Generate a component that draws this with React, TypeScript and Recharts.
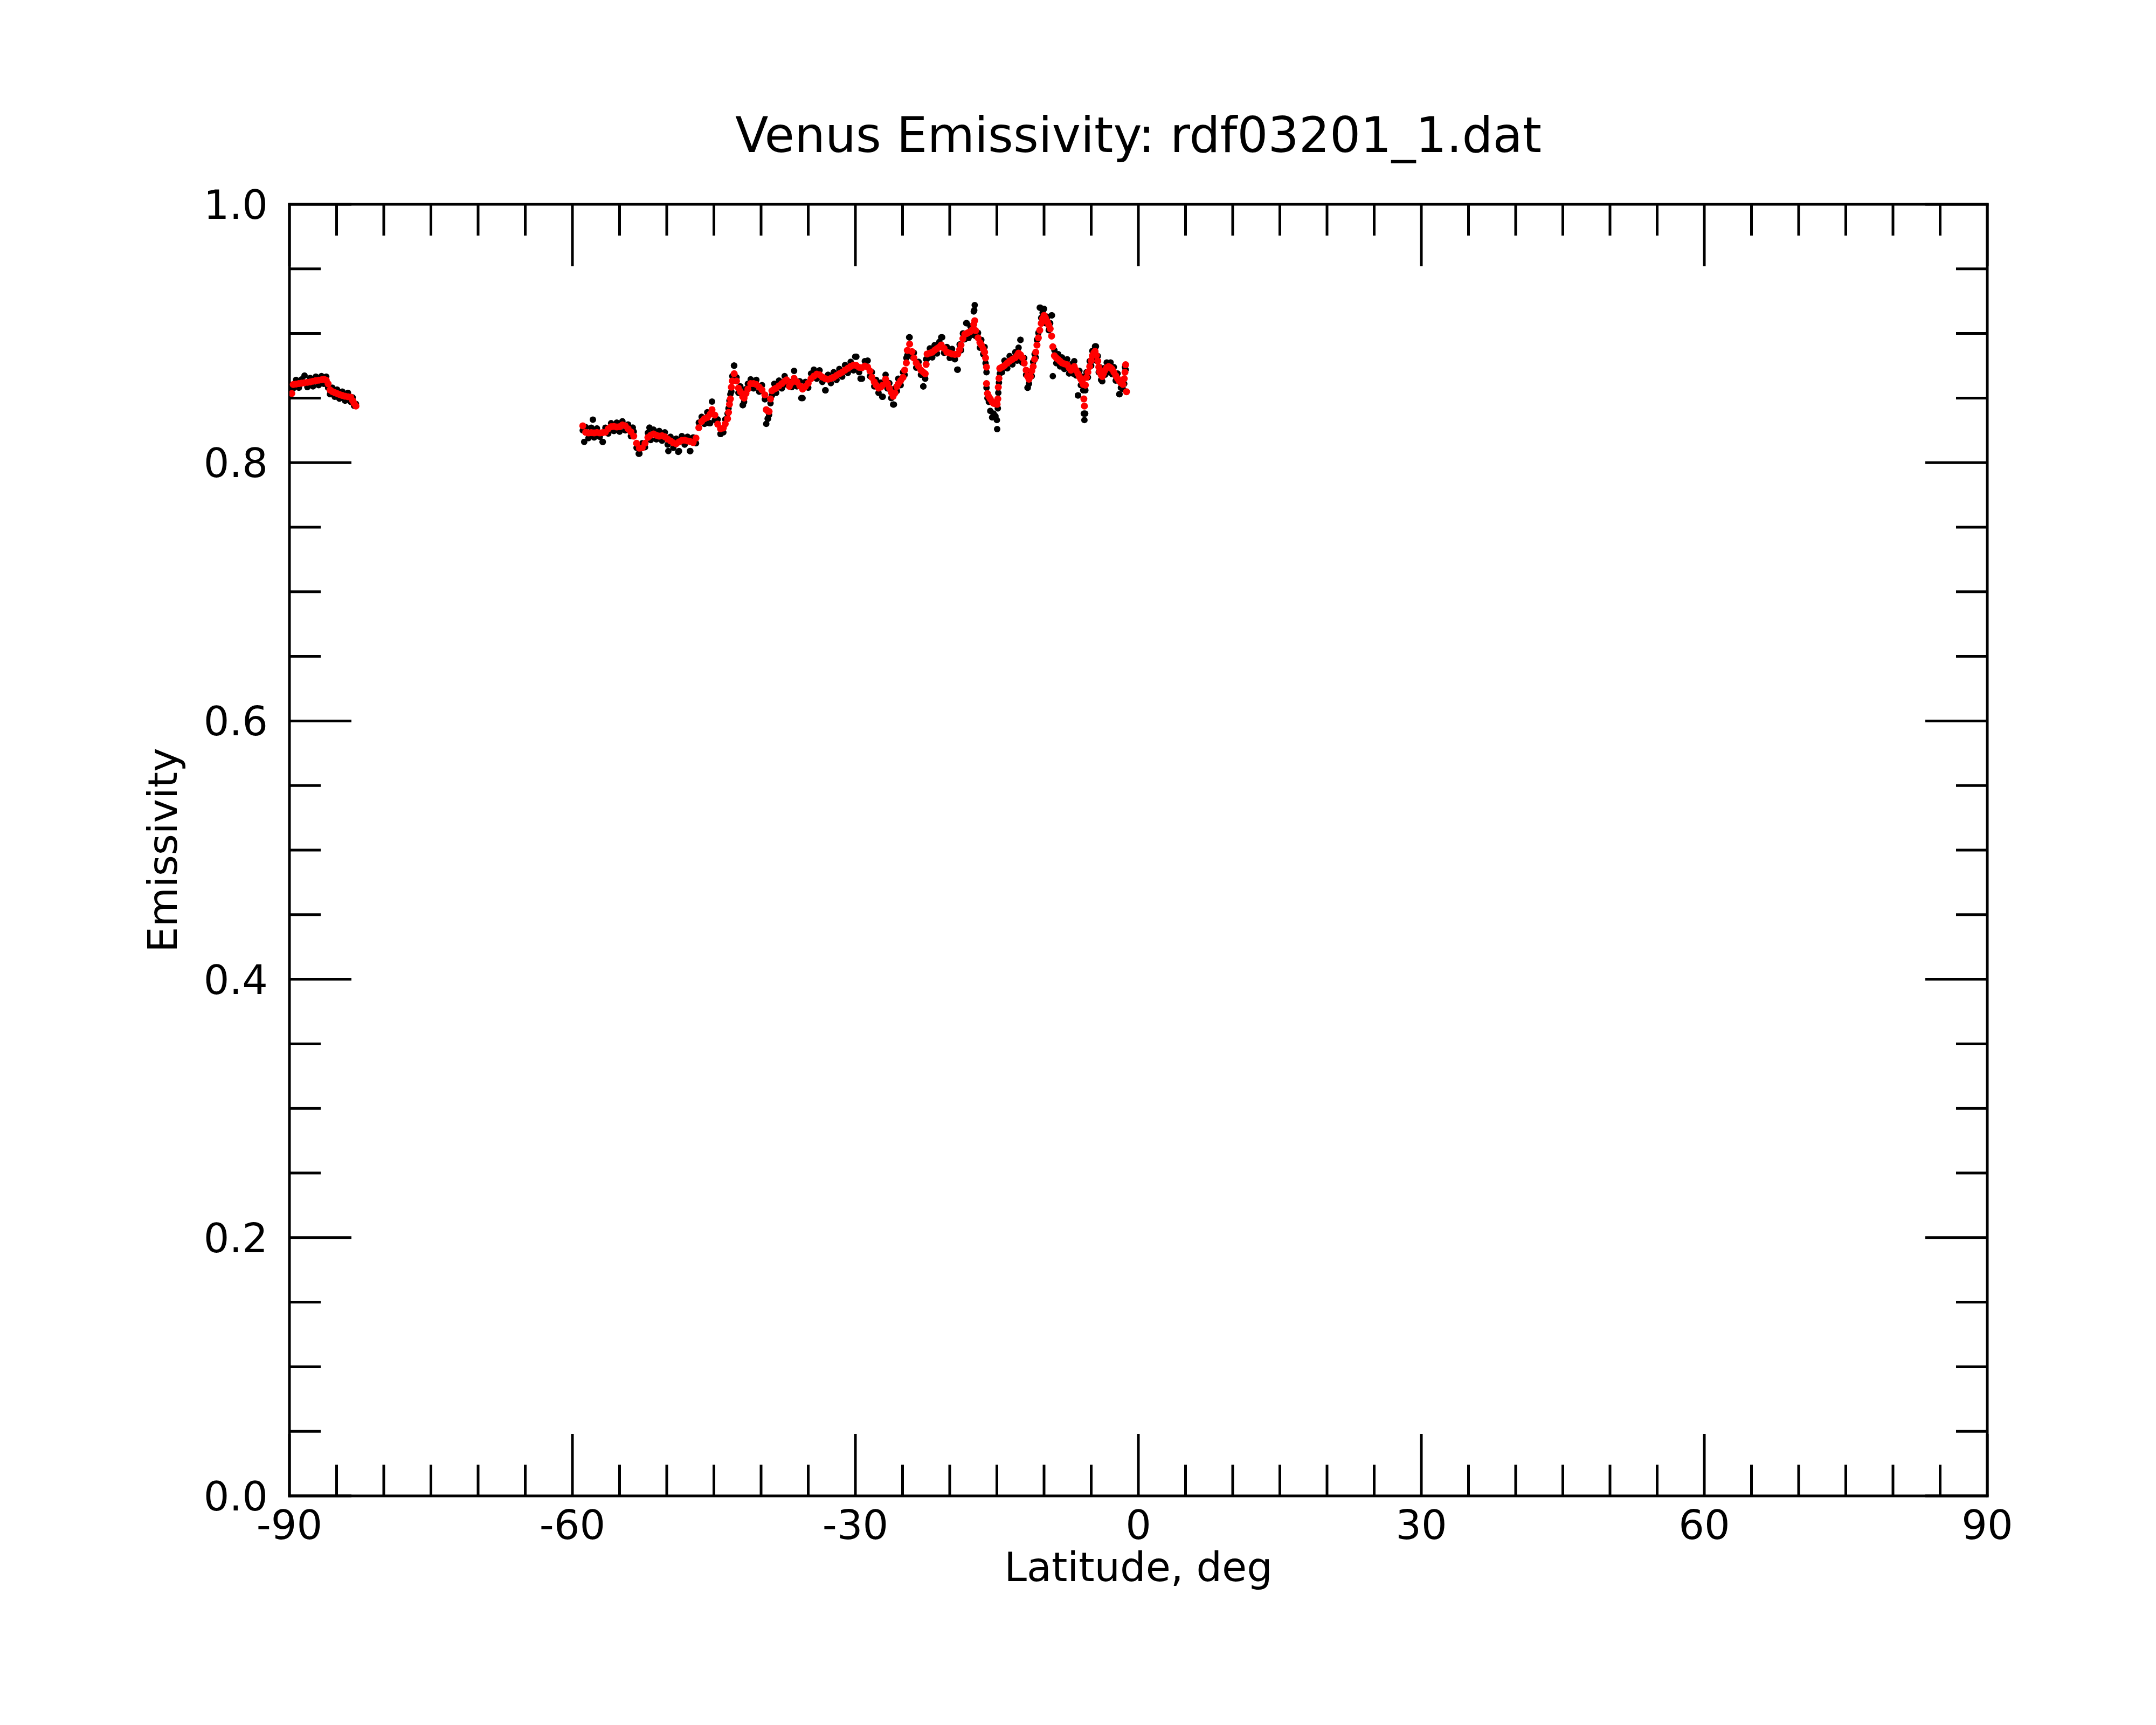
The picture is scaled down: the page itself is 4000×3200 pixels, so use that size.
import React from 'react';
import { ScatterChart, Scatter, XAxis, YAxis } from 'recharts';

// ---- tick labels ----
const xTicks = [-90, -85, -80, -75, -70, -65, -60, -55, -50, -45, -40, -35, -30, -25, -20, -15, -10, -5, 0, 5, 10, 15, 20, 25, 30, 35, 40, 45, 50, 55, 60, 65, 70, 75, 80, 85, 90];
const xMajor = [-90, -60, -30, 0, 30, 60, 90];
const yTicks = [0, 0.05, 0.1, 0.15, 0.2, 0.25, 0.3, 0.35, 0.4, 0.45, 0.5, 0.55, 0.6, 0.65, 0.7, 0.75, 0.8, 0.85, 0.9, 0.95, 1.0];
const yMajor = [0, 0.2, 0.4, 0.6, 0.8, 1.0];

// ---- south polar segment ----
const seg1Lat = [-89.75, -89.6, -89.3, -89.0, -88.7, -88.4, -88.1, -87.8, -87.5, -87.2, -86.9, -86.6, -86.35, -86.1, -85.9, -85.7, -85.45, -85.2, -84.95, -84.7, -84.4, -84.1, -83.8, -83.5, -83.3, -83.15, -82.95];
const seg1Smooth = [0.8535, 0.8605, 0.8608, 0.8612, 0.8615, 0.8619, 0.8622, 0.8625, 0.8630, 0.8635, 0.8638, 0.8642, 0.8646, 0.8638, 0.8610, 0.8563, 0.8550, 0.8542, 0.8535, 0.8528, 0.8520, 0.8514, 0.8510, 0.8507, 0.8480, 0.8459, 0.8438];
const seg1Raw = [0.8570, 0.8575, 0.8640, 0.8580, 0.8645, 0.8674, 0.8585, 0.8655, 0.8590, 0.8665, 0.8600, 0.8670, 0.8610, 0.8665, 0.8580, 0.8530, 0.8580, 0.8510, 0.8565, 0.8495, 0.8550, 0.8480, 0.8540, 0.8470, 0.8505, 0.8440, 0.8455];

// ---- main segment ----
const seg2Lat = [
  -58.9, -58.6, -58.3, -58.0, -57.7, -57.4, -57.1, -56.8, -56.5, -56.2,
  -55.9, -55.6, -55.3, -55.0, -54.7, -54.4, -54.1, -53.8, -53.5, -53.2,
  -52.9, -52.6, -52.3, -52.0, -51.7, -51.4, -51.1, -50.8, -50.5, -50.2,
  -49.9, -49.6, -49.3, -49.0, -48.7, -48.4, -48.1, -47.8, -47.5, -47.2,
  -46.9, -46.6, -46.3, -46.0, -45.7, -45.4, -45.2, -44.9, -44.6, -44.3,
  -44.0, -43.8, -43.55, -43.45, -43.35, -43.25, -43.15, -43.05, -42.85, -42.6,
  -42.4, -42.2, -41.95, -41.8, -41.6, -41.4, -41.1, -40.8, -40.5, -40.2,
  -39.9, -39.6, -39.45, -39.3, -39.15, -39.0, -38.85, -38.6, -38.4, -38.1,
  -37.8, -37.5, -37.3, -37.0, -36.75, -36.5, -36.2, -35.9, -35.6, -35.3,
  -35.0, -34.7, -34.4, -34.1, -33.8, -33.5, -33.2, -32.9, -32.6, -32.3,
  -32.0, -31.7, -31.4, -31.1, -30.8, -30.5, -30.2, -29.9, -29.6, -29.3,
  -29.0, -28.7, -28.45, -28.25, -28.0, -27.8, -27.55, -27.3, -27.1, -26.8,
  -26.6, -26.4, -26.2, -26.0, -25.8, -25.6, -25.45, -25.2, -24.95, -24.78,
  -24.6, -24.5, -24.25, -24.0, -23.8, -23.55, -23.3, -23.05, -22.8, -22.6,
  -22.5, -22.4, -22.1, -21.85, -21.6, -21.35, -21.1, -20.9, -20.6, -20.3,
  -20.0, -19.75, -19.45, -19.15, -18.95, -18.8, -18.6, -18.4, -18.2, -18.0,
  -17.8, -17.6, -17.45, -17.35, -17.25, -17.0, -16.8, -16.65, -16.45, -16.3,
  -16.2, -16.1, -16.1, -16.0, -15.85, -15.7, -15.5, -15.35, -15.15, -14.97,
  -14.9, -14.85, -14.78, -14.69, -14.45, -14.2, -13.9, -13.65, -13.35, -13.05,
  -12.85, -12.7, -12.5, -12.3, -12.1, -11.9, -11.75, -11.6, -11.45, -11.3,
  -11.15, -11.0, -10.88, -10.75, -10.6, -10.45, -10.3, -10.15, -10.0, -9.85,
  -9.65, -9.5, -9.35, -9.2, -9.07, -8.9, -8.7, -8.5, -8.3, -8.1,
  -7.85, -7.55, -7.35, -7.15, -6.95, -6.8, -6.6, -6.4, -6.25, -6.1,
  -5.95, -5.85, -5.78, -5.72, -5.62, -5.5, -5.35, -5.16, -5.0, -4.88,
  -4.72, -4.59, -4.45, -4.3, -4.2, -4.1, -3.95, -3.83, -3.7, -3.54,
  -3.35, -3.16, -2.95, -2.78, -2.6, -2.4, -2.2, -2.02, -1.85, -1.64,
  -1.5, -1.42, -1.35, -1.26,
];
const seg2Smooth = [
  0.8285, 0.8235, 0.8230, 0.8232, 0.8230, 0.8233, 0.8230, 0.8232, 0.8236, 0.8262,
  0.8278, 0.8280, 0.8276, 0.8278, 0.8292, 0.8285, 0.8262, 0.8238, 0.8205, 0.8150,
  0.8112, 0.8115, 0.8150, 0.8195, 0.8212, 0.8222, 0.8212, 0.8205, 0.8208, 0.8200,
  0.8182, 0.8168, 0.8153, 0.8146, 0.8160, 0.8172, 0.8174, 0.8168, 0.8163, 0.8155,
  0.8190, 0.8270, 0.8318, 0.8340, 0.8350, 0.8375, 0.8410, 0.8368, 0.8298, 0.8262,
  0.8268, 0.8300, 0.8340, 0.8389, 0.8452, 0.8493, 0.8584, 0.8632, 0.8688, 0.8632,
  0.8577, 0.8549, 0.8510, 0.8500, 0.8535, 0.8570, 0.8612, 0.8612, 0.8605, 0.8585,
  0.8563, 0.8525, 0.8410, 0.8400, 0.8396, 0.8493, 0.8556, 0.8570, 0.8577, 0.8595,
  0.8612, 0.8630, 0.8640, 0.8591, 0.8620, 0.8653, 0.8625, 0.8595, 0.8570, 0.8590,
  0.8615, 0.8650, 0.8670, 0.8685, 0.8680, 0.8662, 0.8650, 0.8646, 0.8652, 0.8660,
  0.8675, 0.8688, 0.8700, 0.8716, 0.8730, 0.8745, 0.8755, 0.8752, 0.8738, 0.8735,
  0.8748, 0.8740, 0.8709, 0.8660, 0.8625, 0.8600, 0.8577, 0.8585, 0.8600, 0.8646,
  0.8612, 0.8577, 0.8545, 0.8514, 0.8540, 0.8590, 0.8610, 0.8635, 0.8660, 0.8716,
  0.8772, 0.8869, 0.8918, 0.8860, 0.8810, 0.8772, 0.8745, 0.8716, 0.8700, 0.8688,
  0.8760, 0.8841, 0.8848, 0.8855, 0.8870, 0.8883, 0.8895, 0.8911, 0.8885, 0.8855,
  0.8848, 0.8841, 0.8838, 0.8841, 0.8875, 0.8911, 0.8960, 0.8994, 0.9000, 0.9008,
  0.9015, 0.9030, 0.9070, 0.9099, 0.9022, 0.8966, 0.8930, 0.8911, 0.8880, 0.8855,
  0.8810, 0.8740, 0.8612, 0.8535, 0.8510, 0.8493, 0.8470, 0.8459, 0.8455, 0.8452,
  0.8493, 0.8584, 0.8653, 0.8730, 0.8740, 0.8751, 0.8770, 0.8786, 0.8800, 0.8813,
  0.8830, 0.8848, 0.8835, 0.8813, 0.8770, 0.8716, 0.8670, 0.8646, 0.8667, 0.8710,
  0.8744, 0.8800, 0.8855, 0.8910, 0.8966, 0.9025, 0.9078, 0.9115, 0.9140, 0.9120,
  0.9092, 0.9065, 0.9036, 0.8980, 0.8897, 0.8827, 0.8810, 0.8799, 0.8785, 0.8772,
  0.8765, 0.8758, 0.8735, 0.8716, 0.8730, 0.8744, 0.8715, 0.8688, 0.8665, 0.8646,
  0.8625, 0.8605, 0.8493, 0.8438, 0.8600, 0.8660, 0.8700, 0.8744, 0.8790, 0.8827,
  0.8850, 0.8862, 0.8830, 0.8786, 0.8740, 0.8702, 0.8680, 0.8667, 0.8690, 0.8716,
  0.8735, 0.8744, 0.8735, 0.8723, 0.8700, 0.8674, 0.8650, 0.8632, 0.8618, 0.8605,
  0.8650, 0.8700, 0.8758, 0.8549,
];
const seg2Raw = [
  0.8250, 0.8275, 0.8190, 0.8270, 0.8195, 0.8265, 0.8200, 0.8160, 0.8270, 0.8225,
  0.8305, 0.8245, 0.8310, 0.8240, 0.8320, 0.8250, 0.8295, 0.8205, 0.8240, 0.8115,
  0.8070, 0.8150, 0.8120, 0.8230, 0.8175, 0.8255, 0.8180, 0.8245, 0.8170, 0.8235,
  0.8140, 0.8200, 0.8115, 0.8185, 0.8090, 0.8205, 0.8140, 0.8200, 0.8090, 0.8195,
  0.8150, 0.8310, 0.8355, 0.8300, 0.8390, 0.8306, 0.8472, 0.8330, 0.8335, 0.8222,
  0.8235, 0.8335, 0.8380, 0.8420, 0.8480, 0.8530, 0.8550, 0.8670, 0.8751, 0.8660,
  0.8540, 0.8590, 0.8445, 0.8470, 0.8570, 0.8610, 0.8645, 0.8575, 0.8640, 0.8550,
  0.8600, 0.8490, 0.8300, 0.8340, 0.8370, 0.8460, 0.8520, 0.8610, 0.8540, 0.8635,
  0.8575, 0.8670, 0.8605, 0.8625, 0.8585, 0.8710, 0.8590, 0.8630, 0.8500, 0.8625,
  0.8580, 0.8690, 0.8720, 0.8650, 0.8715, 0.8625, 0.8560, 0.8680, 0.8615, 0.8700,
  0.8640, 0.8725, 0.8665, 0.8755, 0.8695, 0.8780, 0.8715, 0.8820, 0.8700, 0.8650,
  0.8785, 0.8790, 0.8670, 0.8700, 0.8590, 0.8640, 0.8540, 0.8620, 0.8510, 0.8680,
  0.8575, 0.8615, 0.8500, 0.8450, 0.8575, 0.8555, 0.8650, 0.8600, 0.8700, 0.8680,
  0.8810, 0.8830, 0.8970, 0.8820, 0.8850, 0.8735, 0.8780, 0.8680, 0.8590, 0.8650,
  0.8800, 0.8805, 0.8885, 0.8815, 0.8910, 0.8845, 0.8935, 0.8970, 0.8850, 0.8895,
  0.8810, 0.8880, 0.8800, 0.8720, 0.8915, 0.8870, 0.9000, 0.8955, 0.9080, 0.8965,
  0.9055, 0.8990, 0.9170, 0.9220, 0.8980, 0.9005, 0.8890, 0.8950, 0.8840, 0.8895,
  0.8770, 0.8700, 0.8580, 0.8500, 0.8470, 0.8400, 0.8350, 0.8380, 0.8360, 0.8260,
  0.8420, 0.8540, 0.8620, 0.8690, 0.8700, 0.8790, 0.8730, 0.8825, 0.8760, 0.8855,
  0.8790, 0.8890, 0.8950, 0.8775, 0.8810, 0.8680, 0.8580, 0.8610, 0.8700, 0.8670,
  0.8780, 0.8840, 0.8815, 0.8950, 0.9005, 0.9200, 0.9120, 0.9160, 0.9190, 0.9080,
  0.9130, 0.9025, 0.9080, 0.9140, 0.8670, 0.8870, 0.8770, 0.8840, 0.8745, 0.8815,
  0.8725, 0.8800, 0.8690, 0.8760, 0.8690, 0.8785, 0.8675, 0.8520, 0.8710, 0.8600,
  0.8665, 0.8560, 0.8380, 0.8330, 0.8560, 0.8700, 0.8660, 0.8785, 0.8750, 0.8865,
  0.8810, 0.8900, 0.8790, 0.8825, 0.8700, 0.8740, 0.8640, 0.8630, 0.8730, 0.8680,
  0.8775, 0.8700, 0.8775, 0.8685, 0.8740, 0.8635, 0.8690, 0.8530, 0.8580, 0.8570,
  0.8610, 0.8740, 0.8720, 0.8549,
];

// ---- isolated raw outliers ----
const spikeLat = [-58.75, -57.83, -56.78, -53.6, -52.97, -51.83, -49.83, -48.78, -47.54, -45.5, -44.3, -42.87, -41.92, -39.26, -35.73, -33.16, -30.02, -29.45, -27.16, -25.92, -24.3, -22.8, -20.8, -19.2, -18.25, -17.4, -15.2, -15.0, -12.5, -11.73, -10.4, -9.16, -6.4, -5.64, -4.5, -2.0];
const spikeVal = [0.8160, 0.8333, 0.8160, 0.8271, 0.8069, 0.8271, 0.8090, 0.8083, 0.8090, 0.8306, 0.8222, 0.8751, 0.8445, 0.8340, 0.8500, 0.8560, 0.8820, 0.8650, 0.8510, 0.8450, 0.8970, 0.8590, 0.8970, 0.8720, 0.9080, 0.9180, 0.8360, 0.8330, 0.8950, 0.8580, 0.9200, 0.9140, 0.8520, 0.8380, 0.8900, 0.8530];

const toPoints = (lats: number[], vals: number[]) => lats.map((lat, i) => ({ lat, e: vals[i] }));

const rawPoints = [...toPoints(seg1Lat, seg1Raw), ...toPoints(seg2Lat, seg2Raw), ...toPoints(spikeLat, spikeVal)];
const smoothPoints = [...toPoints(seg1Lat, seg1Smooth), ...toPoints(seg2Lat, seg2Smooth)];

const FONT = 'DejaVu Sans';
const MAJOR = 115;
const MINOR = 58;
const LW = 5;

const isXMajor = (v: number) => xMajor.some((m) => Math.abs(m - v) < 1e-9);
const isYMajor = (v: number) => yMajor.some((m) => Math.abs(m - v) < 1e-9);

const BottomTick = (p: any) => {
  const { x, y, payload } = p;
  const major = isXMajor(payload.value);
  return (
    <g>
      <line x1={x} y1={y} x2={x} y2={y - (major ? MAJOR : MINOR)} stroke="#000" strokeWidth={LW} />
      {major && (
        <text x={x} y={y + 80} textAnchor="middle" fontSize={75} fontFamily={FONT} fill="#000">
          {String(payload.value)}
        </text>
      )}
    </g>
  );
};

const TopTick = (p: any) => {
  const { x, y, payload } = p;
  const major = isXMajor(payload.value);
  return <line x1={x} y1={y} x2={x} y2={y + (major ? MAJOR : MINOR)} stroke="#000" strokeWidth={LW} />;
};

const LeftTick = (p: any) => {
  const { x, y, payload } = p;
  const major = isYMajor(payload.value);
  return (
    <g>
      <line x1={x} y1={y} x2={x + (major ? MAJOR : MINOR)} y2={y} stroke="#000" strokeWidth={LW} />
      {major && (
        <text x={x - 40} y={y + 27} textAnchor="end" fontSize={75} fontFamily={FONT} fill="#000">
          {Number(payload.value).toFixed(1)}
        </text>
      )}
    </g>
  );
};

const RightTick = (p: any) => {
  const { x, y, payload } = p;
  const major = isYMajor(payload.value);
  return <line x1={x} y1={y} x2={x - (major ? MAJOR : MINOR)} y2={y} stroke="#000" strokeWidth={LW} />;
};

const BlackDot = (p: any) => <circle cx={p.cx} cy={p.cy} r={6} fill="#000000" />;
const RedDot = (p: any) => <circle cx={p.cx} cy={p.cy} r={6.5} fill="#ff0000" />;
const NoDot = () => <g />;

const axisLine = { stroke: '#000', strokeWidth: LW, strokeLinecap: 'square' as const };

export default function App() {
  return (
    <div style={{ position: 'relative', width: 3984, height: 3184, background: '#fff' }}>
      <ScatterChart
        width={3984}
        height={3184}
        margin={{ top: 361, right: 295, bottom: 217, left: 329 }}
      >
        <XAxis
          xAxisId="bottom"
          dataKey="lat"
          type="number"
          orientation="bottom"
          domain={[-90, 90]}
          allowDataOverflow
          ticks={xTicks}
          interval={0}
          height={200}
          tickSize={0}
          tickMargin={0}
          tickLine={false}
          axisLine={axisLine}
          tick={<BottomTick />}
        />
        <XAxis
          xAxisId="top"
          dataKey="lat"
          type="number"
          orientation="top"
          domain={[-90, 90]}
          allowDataOverflow
          ticks={xTicks}
          interval={0}
          height={10}
          tickSize={0}
          tickMargin={0}
          tickLine={false}
          axisLine={axisLine}
          tick={<TopTick />}
        />
        <YAxis
          yAxisId="left"
          dataKey="e"
          type="number"
          orientation="left"
          domain={[0, 1]}
          allowDataOverflow
          ticks={yTicks}
          interval={0}
          width={200}
          tickSize={0}
          tickMargin={0}
          tickLine={false}
          axisLine={axisLine}
          tick={<LeftTick />}
        />
        <YAxis
          yAxisId="right"
          dataKey="e"
          type="number"
          orientation="right"
          domain={[0, 1]}
          allowDataOverflow
          ticks={yTicks}
          interval={0}
          width={10}
          tickSize={0}
          tickMargin={0}
          tickLine={false}
          axisLine={axisLine}
          tick={<RightTick />}
        />
        <Scatter
          data={smoothPoints}
          xAxisId="top"
          yAxisId="right"
          shape={<NoDot />}
          isAnimationActive={false}
        />
        <Scatter
          data={rawPoints}
          xAxisId="bottom"
          yAxisId="left"
          fill="#000000"
          shape={<BlackDot />}
          isAnimationActive={false}
        />
        <Scatter
          data={smoothPoints}
          xAxisId="bottom"
          yAxisId="left"
          fill="#ff0000"
          shape={<RedDot />}
          isAnimationActive={false}
        />
      </ScatterChart>
      <svg
        width={3984}
        height={3184}
        style={{ position: 'absolute', left: 0, top: 0, pointerEvents: 'none' }}
      >
        <text x={2104} y={274} textAnchor="middle" fontSize={90} fontFamily={FONT} fill="#000">
          Venus Emissivity: rdf03201_1.dat
        </text>
        <text x={2104} y={2925} textAnchor="middle" fontSize={75} fontFamily={FONT} fill="#000">
          Latitude, deg
        </text>
        <text
          x={320}
          y={1569}
          textAnchor="middle"
          fontSize={75}
          fontFamily={FONT}
          fill="#000"
          transform="rotate(-90 320 1569)"
        >
          Emissivity
        </text>
      </svg>
    </div>
  );
}
